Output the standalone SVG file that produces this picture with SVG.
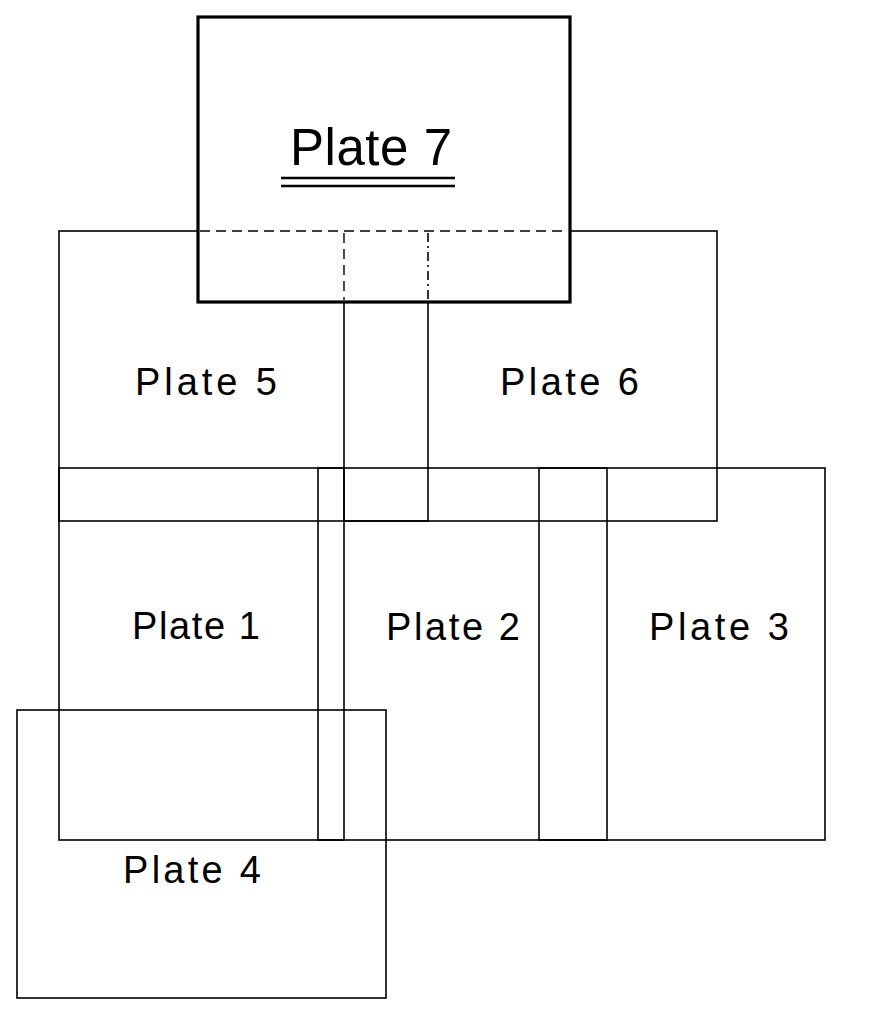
<svg xmlns="http://www.w3.org/2000/svg" width="877" height="1011" viewBox="0 0 877 1011">
  <style>
    .plate { fill: none; stroke: #000; stroke-width: 1.6; }
    .thick { fill: #fff; stroke: #000; stroke-width: 3.2; }
    .hidden { fill: none; stroke: #000; stroke-width: 1.4; stroke-dasharray: 10 6; }
    .hiddendot { fill: none; stroke: #000; stroke-width: 1.6; stroke-dasharray: 9 4 2 4; }
    .lbl { font-family: "Liberation Sans", "DejaVu Sans", sans-serif; font-size: 38px; fill: #000; }
    .title { font-family: "Liberation Sans", "DejaVu Sans", sans-serif; font-size: 51px; fill: #000; }
  </style>
  <rect width="877" height="1011" fill="#fff"/>

  <g id="plate1">
    <rect class="plate" x="59" y="468" width="285" height="372"/>
    <text class="lbl" x="132" y="639" textLength="128" lengthAdjust="spacing">Plate 1</text>
  </g>
  <g id="plate2">
    <rect class="plate" x="318" y="468" width="289" height="372"/>
    <text class="lbl" x="386" y="640" textLength="134" lengthAdjust="spacing">Plate 2</text>
  </g>
  <g id="plate3">
    <rect class="plate" x="539" y="468" width="286" height="372"/>
    <text class="lbl" x="649" y="640" textLength="140" lengthAdjust="spacing">Plate 3</text>
  </g>
  <g id="plate5">
    <rect class="plate" x="59" y="231" width="369" height="290"/>
    <text class="lbl" x="135" y="395" textLength="142" lengthAdjust="spacing">Plate 5</text>
  </g>
  <g id="plate6">
    <rect class="plate" x="344" y="231" width="373" height="290"/>
    <text class="lbl" x="500" y="395" textLength="139" lengthAdjust="spacing">Plate 6</text>
  </g>
  <g id="plate4">
    <rect class="plate" x="17" y="710" width="369" height="288"/>
    <text class="lbl" x="123" y="883" textLength="138" lengthAdjust="spacing">Plate 4</text>
  </g>
  <g id="plate7">
    <rect class="thick" x="198" y="17" width="372" height="285"/>
    <text class="title" x="290" y="165" textLength="162" lengthAdjust="spacing">Plate 7</text>
    <line x1="281" y1="178" x2="455" y2="178" stroke="#000" stroke-width="2.6"/>
    <line x1="281" y1="186" x2="455" y2="186" stroke="#000" stroke-width="2.6"/>
  </g>
  <g id="hidden-edges">
    <line class="hidden" x1="200" y1="231" x2="568" y2="231"/>
    <line class="hidden" x1="344" y1="233" x2="344" y2="300"/>
    <line class="hiddendot" x1="428" y1="233" x2="428" y2="300"/>
  </g>
</svg>
